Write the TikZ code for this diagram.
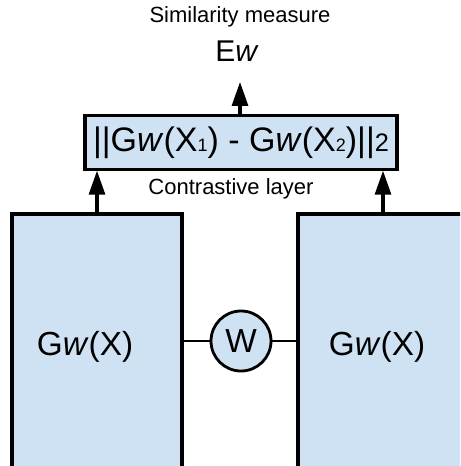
\documentclass[tikz,border=0pt]{standalone}
\usepackage{fontspec}
\setmainfont{Liberation Sans}
\usepackage{xcolor}
\usetikzlibrary{positioning,arrows.meta}
\definecolor{NetBlue}{RGB}{207,226,243}

\begin{document}
\begin{tikzpicture}[x=0.75pt, y=-0.75pt,
  netbox/.style={draw=black, line width=2.3pt, fill=NetBlue, minimum width=127.5pt, minimum height=192pt},
  normbox/.style={draw=black, line width=2.3pt, fill=NetBlue, minimum width=234pt, minimum height=40pt, inner sep=0pt,
    font=\fontsize{25.5}{29}\selectfont},
  wcircle/.style={circle, draw=black, line width=2.1pt, fill=NetBlue, minimum size=45pt, inner sep=0pt,
    font=\fontsize{25}{29}\selectfont},
  bigtext/.style={anchor=base, inner sep=0pt, font=\fontsize{25}{29}\selectfont},
  smalltext/.style={anchor=base, inner sep=0pt, font=\fontsize{16.5}{19}\selectfont},
  arrow/.style={draw=black, line width=2.3pt, -{Triangle[length=18pt,width=12pt]}},
  line/.style={draw=black, line width=2.1pt}
]
\clip (0,0) rectangle (460,466);

\node[netbox] (gleft) at (97,342) {};
\node[netbox] (gright) at (383,342) {};
\node[bigtext] (tleft) at (85,355) {G\textit{w}(X)};
\node[bigtext] (tright) at (377,355) {G\textit{w}(X)};

\node[wcircle] (w) at (241,341) {W};

\node[normbox] (dist) at (241,142.5) {||G\textit{w}(X{\fontsize{13.5}{15}\selectfont 1}) - G\textit{w}(X{\fontsize{13.5}{15}\selectfont 2})||{\fontsize{19}{21}\selectfont 2}};
\node[smalltext] (contr) at (231,195) {Contrastive layer};

\coordinate (ein) at (240,82);
\node[anchor=base, inner sep=0pt, font=\fontsize{22.5}{26}\selectfont] (ew) at (237,62) {E\textit{w}};
\node[smalltext] (sim) at (240,23) {Similarity measure};

\draw[line] (gleft.east |- w) -- (w);
\draw[line] (w) -- (gright.west |- w);

\draw[arrow] (gleft.north) -- (gleft |- dist.south);
\draw[arrow] (gright.north) -- (gright |- dist.south);
\draw[arrow] (dist.north -| ein) -- (ein);
\end{tikzpicture}
\end{document}
